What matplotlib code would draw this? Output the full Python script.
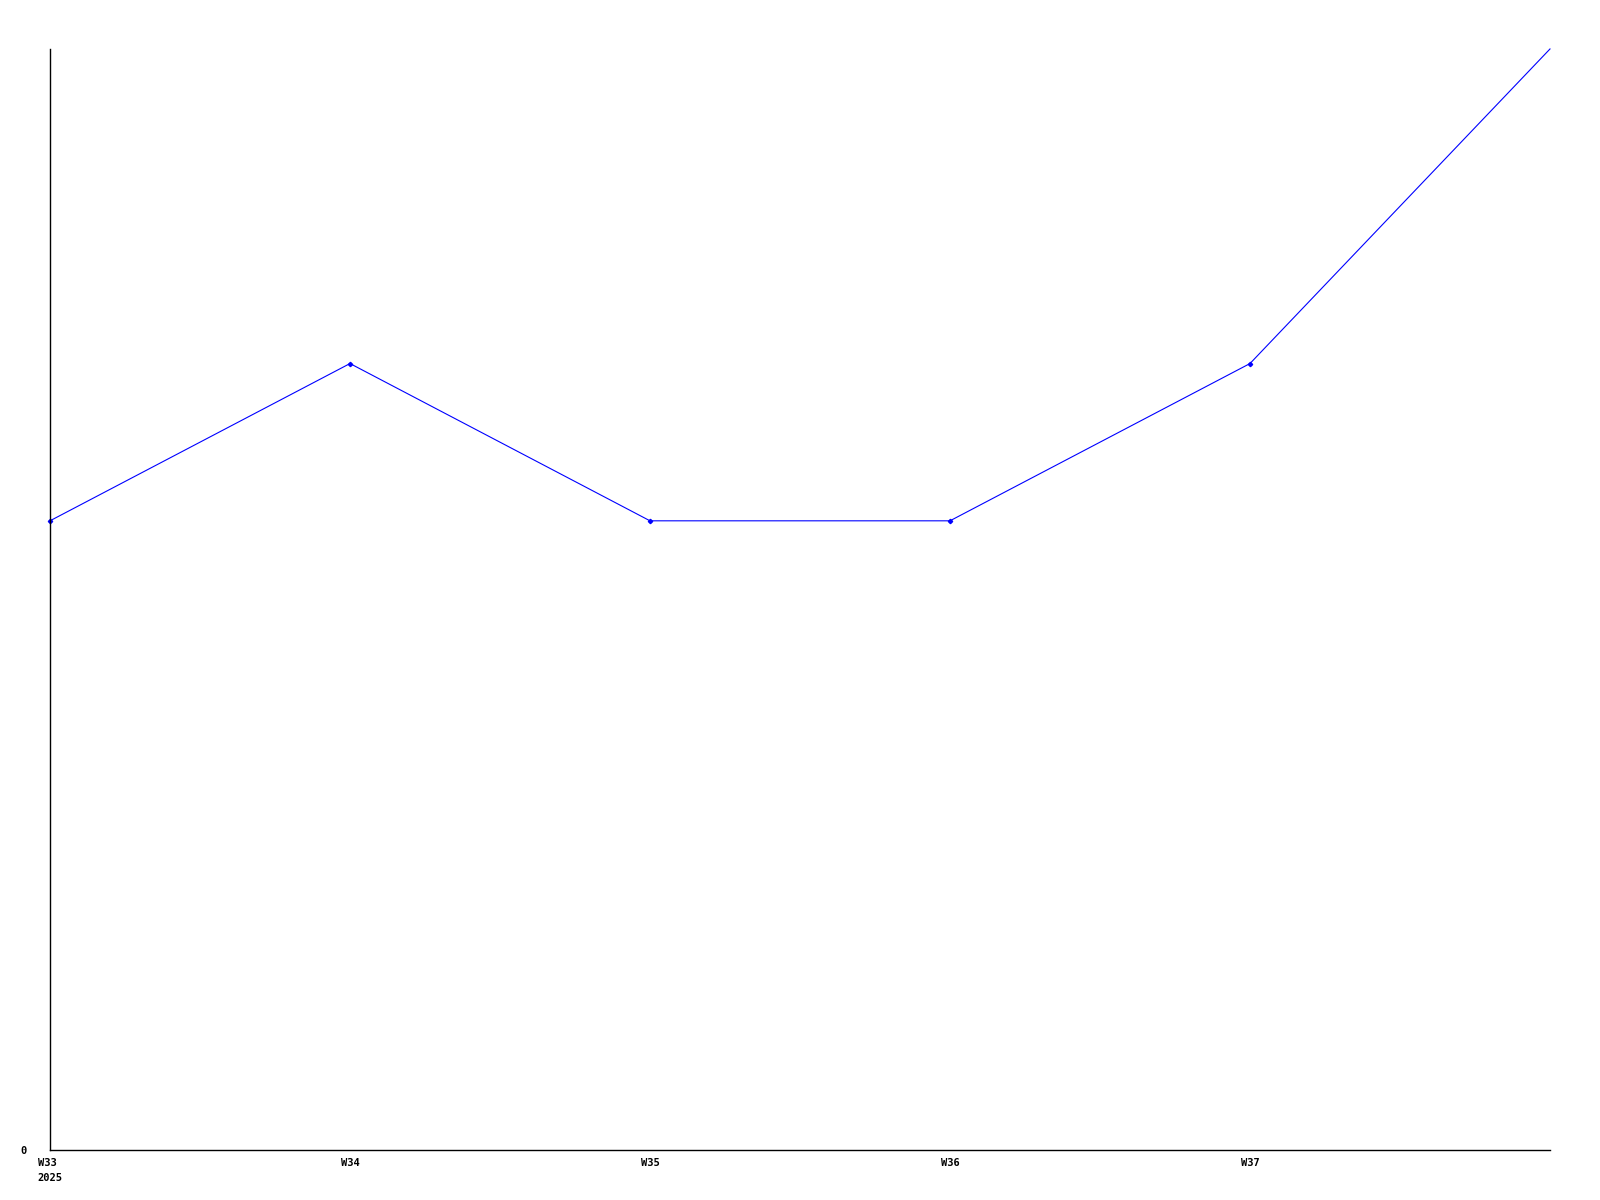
import matplotlib
matplotlib.use("Agg")
import matplotlib.pyplot as plt

# weekly counts
weeks = ["W33", "W34", "W35", "W36", "W37", "W38"]
counts = [4, 5, 4, 4, 5, 7]
tick_labels = ["W33\n2025", "W34", "W35", "W36", "W37"]

fig = plt.figure(figsize=(16, 12), dpi=100)
ax = fig.add_axes([0.03125, 0.0417, 0.9375, 0.9175])

x = list(range(len(weeks)))
ax.plot(x, counts, color="#0000ff", linewidth=0.8, marker="D", markersize=2.2,
        markevery=list(range(len(weeks) - 1)), clip_on=False)

ax.set_xlim(0, len(weeks) - 1)
ax.set_ylim(0, max(counts))

ax.set_xticks(x[:-1])
ax.set_xticklabels(tick_labels, fontfamily="DejaVu Sans Mono", fontweight="bold",
                   fontsize=7.5, linespacing=1.6)
for lbl in ax.get_xticklabels():
    lbl.set_multialignment("left")
ax.set_yticks([0])
ax.set_yticklabels(["0"], fontfamily="DejaVu Sans Mono", fontweight="bold", fontsize=7.5)
ax.tick_params(axis="both", length=0)
ax.tick_params(axis="x", pad=6)
ax.tick_params(axis="y", pad=17)

ax.spines["top"].set_visible(False)
ax.spines["right"].set_visible(False)
ax.spines["left"].set_linewidth(1)
ax.spines["bottom"].set_linewidth(1)

fig.savefig("out.png", dpi=100)
